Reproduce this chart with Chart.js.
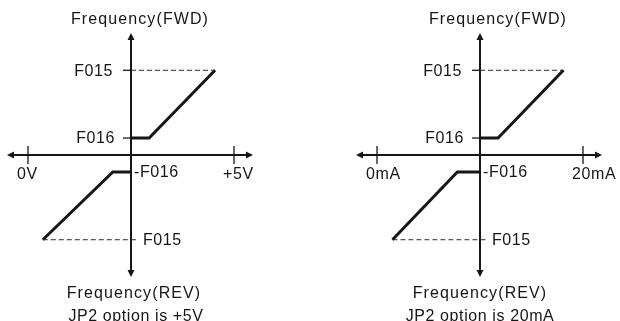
<!DOCTYPE html>
<html>
<head>
<meta charset="utf-8">
<script src="https://cdn.jsdelivr.net/npm/chart.js@4/dist/chart.umd.min.js"></script>
<style>
  body { margin: 0; background: #fff; }
  #wrap { position: relative; width: 620px; height: 321px; overflow: hidden; background: #fff; }
  #wrap canvas { position: absolute; top: 0; }
</style>
</head>
<body>
<div id="wrap">
  <canvas id="chartVolt" width="310" height="321" style="left:0px"></canvas>
  <canvas id="chartCurrent" width="310" height="321" style="left:349px"></canvas>
</div>
<script>
// Datos de los dos diagramas (entrada analógica -> frecuencia)
const levelLabels = ['F015', 'F016'];
const levelValues = [100, 20];

// +5V
const voltTicks = [0, 5];
const voltTickLabels = ['0V', '+5V'];
const voltAxisAt = 2.5;
const fwdVolt = [2.5, 2.94, 4.54];
const revVolt = [2.5, 2.06, 0.36];

// 20mA
const currentTicks = [0, 20];
const currentTickLabels = ['0mA', '20mA'];
const currentAxisAt = 10;
const fwdCurrent = [10, 11.75, 18.1];
const revCurrent = [10, 7.8, 1.5];

const fwdFreq = [20, 20, 100];
const revFreq = [-20, -20, -100];

const titleFwd = 'Frequency(FWD)';
const titleRev = 'Frequency(REV)';
const notes = ['JP2 option is +5V', 'JP2 option is 20mA'];

const ink = '#161616';
const font = '16px "Liberation Sans", Arial, sans-serif';

function pts(xs, ys) {
  return xs.map((v, i) => ({ x: v, y: ys[i] }));
}

function linea(ctx, x1, y1, x2, y2) {
  ctx.beginPath();
  ctx.moveTo(x1, y1);
  ctx.lineTo(x2, y2);
  ctx.stroke();
}

function flecha(ctx, x, y, dx, dy) {
  // punta en (x, y), apuntando en la dirección (dx, dy)
  const len = 7, half = 3.5;
  const px = -dy, py = dx;
  ctx.beginPath();
  ctx.moveTo(x, y);
  ctx.lineTo(x - dx * len + px * half, y - dy * len + py * half);
  ctx.lineTo(x - dx * len - px * half, y - dy * len - py * half);
  ctx.closePath();
  ctx.fill();
}

function texto(ctx, s, x, y, align) {
  ctx.textAlign = align;
  ctx.fillText(s, x, y);
}

const diagramPlugin = {
  id: 'diagram',
  beforeDatasetsDraw(chart, args, opts) {
    const { ctx, chartArea, scales: { x, y } } = chart;
    const ax = x.getPixelForValue(opts.axisAt);
    const ay = y.getPixelForValue(0);
    const top = y.getPixelForValue(y.max);
    const bottom = y.getPixelForValue(y.min);
    const left = chartArea.left - 21;
    const right = chartArea.right + 19;
    ctx.save();
    ctx.strokeStyle = ink;
    ctx.fillStyle = ink;
    ctx.lineWidth = 2;
    // ejes
    linea(ctx, left + 4, ay, right - 4, ay);
    flecha(ctx, left, ay, -1, 0);
    flecha(ctx, right, ay, 1, 0);
    linea(ctx, ax, top + 4, ax, bottom - 4);
    flecha(ctx, ax, top, 0, -1);
    flecha(ctx, ax, bottom, 0, 1);
    // marcas del eje x
    ctx.lineWidth = 1.3;
    opts.ticks.forEach(t => {
      const px = x.getPixelForValue(t);
      linea(ctx, px, ay - 9, px, ay + 9);
    });
    // marcas de nivel en el eje vertical
    levelValues.forEach(v => {
      const up = y.getPixelForValue(v);
      linea(ctx, ax - 8, up, ax, up);
    });
    ctx.restore();
  },
  afterDatasetsDraw(chart, args, opts) {
    const { ctx, scales: { x, y } } = chart;
    const ax = x.getPixelForValue(opts.axisAt);
    const ay = y.getPixelForValue(0);
    ctx.save();
    ctx.fillStyle = ink;
    ctx.font = font;
    ctx.textBaseline = 'alphabetic';
    // títulos
    ctx.letterSpacing = '1.1px';
    texto(ctx, titleFwd, ax + opts.titleDx, 24, 'center');
    texto(ctx, titleRev, ax + opts.revDx, 298, 'center');
    ctx.letterSpacing = '0.6px';
    texto(ctx, opts.note, ax + opts.noteDx, 321, 'center');
    // etiquetas del eje x
    opts.ticks.forEach((t, i) => {
      texto(ctx, opts.tickLabels[i], x.getPixelForValue(t) - 11, ay + 24, 'left');
    });
    // etiquetas de nivel
    ctx.textBaseline = 'middle';
    levelValues.forEach((v, i) => {
      const up = y.getPixelForValue(v);
      const dn = y.getPixelForValue(-v);
      texto(ctx, levelLabels[i], ax - (i === 0 ? 18 : 16), up + 1, 'right');
      if (i === 0) {
        texto(ctx, levelLabels[i], ax + 12, dn + 1, 'left');
      } else {
        texto(ctx, '-' + levelLabels[i], ax + 3, dn + 1, 'left');
      }
    });
    ctx.restore();
  }
};

function crearDiagrama(id, maxX, ticks, tickLabels, axisAt, fwdX, revX, note, dx) {
  const ctx = document.getElementById(id);
  const topEnd = fwdX[fwdX.length - 1];
  const botEnd = revX[revX.length - 1];
  return new Chart(ctx, {
    type: 'scatter',
    data: {
      datasets: [
        {
          data: pts([axisAt, topEnd], [levelValues[0], levelValues[0]]),
          showLine: true,
          borderColor: '#2a2a2a',
          borderWidth: 1,
          borderDash: [5, 3],
          pointRadius: 0
        },
        {
          data: pts([botEnd, axisAt + (axisAt / 2.5) * 0.17], [-levelValues[0], -levelValues[0]]),
          showLine: true,
          borderColor: '#2a2a2a',
          borderWidth: 1,
          borderDash: [5, 3],
          pointRadius: 0
        },
        {
          data: pts(fwdX, fwdFreq),
          showLine: true,
          borderColor: ink,
          borderWidth: 3,
          borderJoinStyle: 'miter',
          pointRadius: 0,
          tension: 0
        },
        {
          data: pts(revX, revFreq),
          showLine: true,
          borderColor: ink,
          borderWidth: 3,
          borderJoinStyle: 'miter',
          pointRadius: 0,
          tension: 0
        }
      ]
    },
    options: {
      responsive: false,
      animation: false,
      events: [],
      layout: { padding: { left: 28, right: 76, top: 33, bottom: 44 } },
      scales: {
        x: { type: 'linear', display: false, min: 0, max: maxX },
        y: { type: 'linear', display: false, min: -144, max: 144 }
      },
      plugins: {
        legend: { display: false },
        tooltip: { enabled: false },
        diagram: {
          axisAt: axisAt,
          ticks: ticks,
          tickLabels: tickLabels,
          note: note,
          titleDx: dx[0],
          revDx: dx[1],
          noteDx: dx[2]
        }
      }
    },
    plugins: [diagramPlugin]
  });
}

crearDiagrama('chartVolt', 5, voltTicks, voltTickLabels, voltAxisAt, fwdVolt, revVolt, notes[0], [9, 3, 5]);
crearDiagrama('chartCurrent', 20, currentTicks, currentTickLabels, currentAxisAt, fwdCurrent, revCurrent, notes[1], [18, 0, 0]);
</script>
</body>
</html>
